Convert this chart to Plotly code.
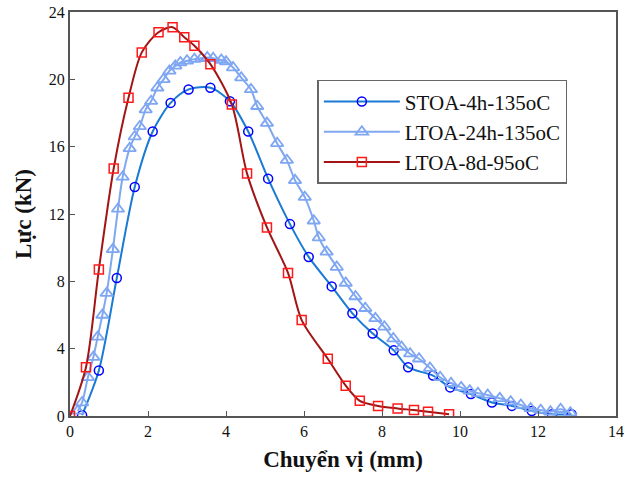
import plotly.graph_objects as go

# STOA-4h-135oC
stoa_x = [0.31, 0.74, 1.2, 1.66, 2.12, 2.58, 3.04, 3.6, 4.1, 4.57, 5.08, 5.64, 6.12, 6.71, 7.24,
          7.76, 8.3, 8.67, 9.31, 9.75, 10.28, 10.82, 11.33, 11.84, 12.36, 12.86]
stoa_y = [0.05, 2.7, 8.2, 13.6, 16.9, 18.6, 19.4, 19.5, 18.7, 16.9, 14.1, 11.4, 9.45, 7.7, 6.1,
          4.9, 3.9, 2.9, 2.4, 1.7, 1.3, 0.8, 0.6, 0.3, 0.1, 0.1]

# LTOA-24h-135oC
ltoa24_x = [0.2, 0.31, 0.46, 0.6, 0.71, 0.83, 0.94, 1.1, 1.23, 1.35, 1.53, 1.66, 1.79, 1.94, 2.08,
            2.24, 2.4, 2.55, 2.7, 2.83, 3.0, 3.19, 3.37, 3.52, 3.67, 3.88, 4.0, 4.18, 4.39, 4.64,
            4.8, 5.05, 5.31, 5.56, 5.77, 6.02, 6.25, 6.38, 6.58, 6.84, 7.07, 7.32, 7.57, 7.83,
            8.06, 8.29, 8.5, 8.72, 8.95, 9.23, 9.49, 9.77, 10.03, 10.25, 10.46, 10.71, 11.02,
            11.3, 11.56, 11.81, 12.07, 12.32, 12.58, 12.83]
ltoa24_y = [0.3, 0.8, 2.3, 3.5, 4.7, 6.0, 7.3, 9.9, 12.3, 14.2, 15.9, 16.6, 17.2, 18.2, 18.7,
            19.5, 20.0, 20.5, 20.8, 21.0, 21.1, 21.2, 21.25, 21.3, 21.25, 21.15, 21.05, 20.7, 20.1, 19.4,
            18.4, 17.4, 16.2, 15.2, 14.0, 13.0, 11.6, 10.6, 9.75, 8.85, 7.9, 7.1, 6.4, 5.8,
            5.3, 4.6, 4.1, 3.7, 3.4, 2.85, 2.3, 1.95, 1.7, 1.5, 1.35, 1.25, 1.05,
            0.85, 0.65, 0.45, 0.35, 0.25, 0.4, 0.2]

# LTOA-8d-95oC
ltoa8_x = [0, 0.41, 0.74, 1.12, 1.5, 1.84, 2.27, 2.63, 2.93, 3.19, 3.6, 4.15, 4.54, 5.05, 5.59,
           5.94, 6.61, 7.07, 7.43, 7.9, 8.4, 8.82, 9.18, 9.72]
ltoa8_y = [0, 2.9, 8.7, 14.7, 18.9, 21.6, 22.8, 23.1, 22.5, 22.0, 20.9, 18.5, 14.4, 11.2, 8.5,
           5.7, 3.4, 1.8, 0.9, 0.6, 0.45, 0.35, 0.25, 0.1]

x_ticks = [0, 2, 4, 6, 8, 10, 12, 14]
y_ticks = [0, 4, 8, 12, 16, 20, 24]

FONT = "Liberation Serif, Times New Roman, serif"

fig = go.Figure()
fig.add_trace(go.Scatter(
    x=stoa_x, y=stoa_y, name="STOA-4h-135oC", mode="lines+markers",
    line=dict(color="#1a7ad4", width=2, shape="spline", smoothing=0.8),
    marker=dict(symbol="circle-open", size=9, color="#0000ff", line=dict(width=1.5, color="#0000ff"))))
fig.add_trace(go.Scatter(
    x=ltoa24_x, y=ltoa24_y, name="LTOA-24h-135oC", mode="lines+markers",
    line=dict(color="#80a8f0", width=2, shape="spline", smoothing=0.8),
    marker=dict(symbol="triangle-up-open", size=11, color="#7fa6f2", line=dict(width=1.8, color="#7fa6f2"))))
fig.add_trace(go.Scatter(
    x=ltoa8_x, y=ltoa8_y, name="LTOA-8d-95oC", mode="lines+markers",
    line=dict(color="#a31515", width=2, shape="spline", smoothing=0.8),
    marker=dict(symbol="square-open", size=9, color="#ff1a1a", line=dict(width=1.5, color="#ff1a1a"))))

axis_common = dict(
    showgrid=False, zeroline=False, showline=True, linecolor="#555555", linewidth=2,
    mirror=True, ticks="inside", ticklen=5, tickcolor="#555555", tickwidth=1,
    tickfont=dict(family=FONT, size=16, color="#111111"), automargin=False,
)

fig.update_xaxes(range=[0, 14], tickvals=x_ticks, ticktext=[str(v) for v in x_ticks],
                 title=dict(text="<b>Chuyển vị (mm)</b>", font=dict(family=FONT, size=23, color="#111111"),
                            standoff=12),
                 **axis_common)
fig.update_yaxes(range=[0, 24], tickvals=y_ticks, ticktext=[str(v) for v in y_ticks],
                 title=dict(text="<b>Lực (kN)</b>", font=dict(family=FONT, size=23, color="#111111"),
                            standoff=11),
                 **axis_common)

fig.update_layout(
    width=624, height=477,
    margin=dict(l=70, r=8, t=12, b=61),
    paper_bgcolor="white", plot_bgcolor="white",
    showlegend=True,
    legend=dict(
        x=0.453, y=0.832, xanchor="left", yanchor="top",
        bgcolor="white", bordercolor="#666666", borderwidth=1.5,
        font=dict(family=FONT, size=21, color="#111111"),
        itemwidth=76,
    ),
)

fig.write_html("out.html")
